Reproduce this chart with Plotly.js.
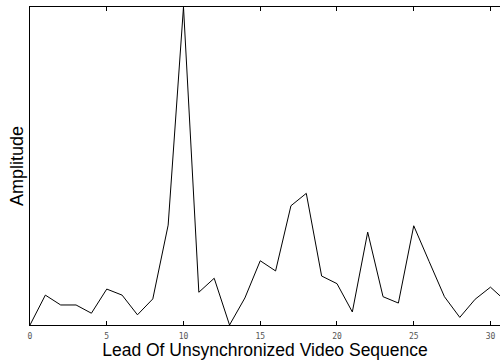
<!DOCTYPE html>
<html>
<head>
<meta charset="utf-8">
<script src="https://cdn.plot.ly/plotly-3.0.1.min.js"></script>
<style>html,body{margin:0;padding:0;background:#fff;}#chart{width:500px;height:360px;}</style>
</head>
<body>
<div id="chart"></div>
<script>
const lead = [0,1,2,3,4,5,6,7,8,9,10,11,12,13,14,15,16,17,18,19,20,21,22,23,24,25,26,27,28,29,30,31];
const amplitude = [0,0.094,0.063,0.063,0.037,0.113,0.094,0.032,0.082,0.314,1.0,0.103,0.147,0,0.085,0.202,0.17,0.375,0.414,0.154,0.13,0.041,0.292,0.089,0.069,0.312,0.2,0.089,0.024,0.081,0.119,0.075];
const xTicks = [0,5,10,15,20,25,30];

Plotly.newPlot('chart', [{
  x: lead, y: amplitude, type: 'scatter', mode: 'lines',
  line: {color: '#000', width: 1}, hoverinfo: 'none'
}], {
  width: 500, height: 360,
  margin: {l: 30, r: 0, t: 7, b: 35},
  paper_bgcolor: '#fff', plot_bgcolor: '#fff',
  showlegend: false,
  xaxis: {
    range: [0, 30.62], tickvals: xTicks, ticktext: xTicks.map(String),
    ticks: 'inside', ticklen: 4, tickcolor: '#000', tickwidth: 1,
    showline: true, linecolor: '#000', linewidth: 1, mirror: 'ticks',
    showgrid: false, zeroline: false, ticklabelstandoff: 3,
    tickfont: {family: 'DejaVu Sans Mono', size: 8, color: '#555'},
    title: {text: 'Lead Of Unsynchronized Video Sequence', font: {family: 'Liberation Sans, Arial', size: 17.5, color: '#000'}, standoff: 6}
  },
  yaxis: {
    range: [0, 1], showticklabels: false, ticks: '',
    showline: true, linecolor: '#000', linewidth: 1,
    showgrid: false, zeroline: false,
    title: {text: 'Amplitude', font: {family: 'Liberation Sans, Arial', size: 18, color: '#000'}, standoff: 0}
  }
}, {staticPlot: true});
</script>
</body>
</html>
